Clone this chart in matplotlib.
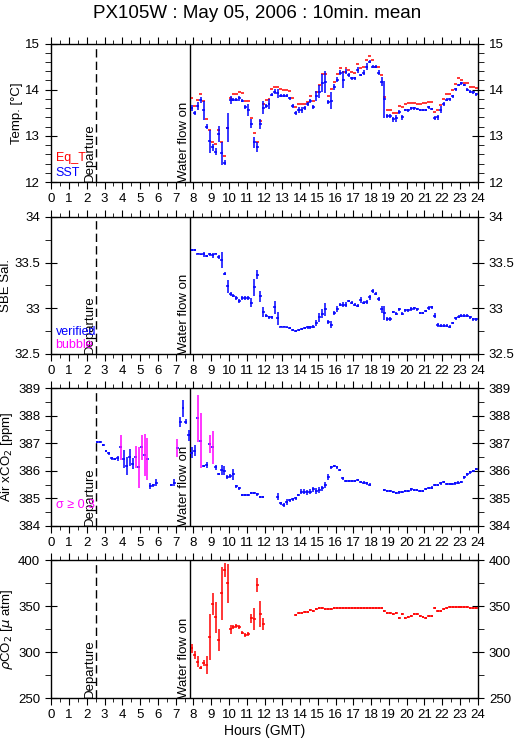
import numpy as np
import matplotlib
matplotlib.use('Agg')
import matplotlib.pyplot as plt
from matplotlib.ticker import MultipleLocator, FuncFormatter

plt.rcParams['font.family'] = ['Liberation Sans', 'DejaVu Sans']
nan = np.nan

# ---- 10 min means, first bin after "water flow on" ----
t_start = 7.92
t_air_start = 2.58
t_depart = 2.5
t_water = 7.83

sst = [13.60,13.50,13.65,13.78,13.55,13.20,12.88,12.75,12.66,13.04,
       12.62,12.42,13.18,13.78,13.78,13.78,13.81,13.76,13.63,13.56,
       13.26,12.86,12.75,13.26,13.61,13.65,13.69,13.89,13.96,13.92,
       13.87,13.87,13.87,13.81,13.65,13.50,13.56,13.56,13.60,13.69,
       13.76,13.62,13.86,13.96,14.14,14.17,13.74,13.76,14.06,14.22,
       14.37,14.22,14.39,14.32,14.25,14.25,14.43,14.32,14.37,14.50,
       14.61,14.50,14.50,14.37,14.17,13.79,13.43,13.43,13.36,13.38,
       13.52,13.40,13.56,13.55,13.60,13.60,13.58,13.56,13.56,13.56,
       13.62,13.58,13.38,13.40,13.57,13.69,13.78,13.79,13.86,14.01,
       14.10,14.14,14.10,14.00,13.96,13.94,13.90]
sst_sd = [0.07,0.04,0.08,0.07,0.2,0.06,0.25,0.08,0.08,0.18,
          0.25,0.05,0.31,0.08,0.03,0.03,0.06,0.03,0.04,0.14,
          0.1,0.12,0.11,0.11,0.14,0.05,0.1,0.03,0.06,0.1,
          0.03,0.03,0.03,0.03,0.05,0.04,0.06,0.07,0.05,0.05,
          0.04,0.04,0.11,0.15,0.2,0.24,0.04,0.18,0.07,0.06,
          0.05,0.18,0.06,0.04,0.03,0.03,0.07,0.03,0.05,0.07,
          0.04,0.04,0.03,0.06,0.1,0.4,0.04,0.04,0.05,0.07,
          0.05,0.05,0.03,0.03,0.03,0.03,0.03,0.03,0.03,0.03,
          0.03,0.03,0.04,0.06,0.07,0.05,0.03,0.03,0.03,0.03,
          0.03,0.03,0.03,0.03,0.03,0.03,0.03]
eqt = [13.81,13.65,13.78,13.90,13.75,13.36,13.13,12.86,12.82,13.13,
       12.86,12.57,13.18,13.81,13.90,13.90,13.94,13.92,13.75,13.75,
       13.38,13.06,12.86,13.33,13.69,13.78,13.79,14.01,14.06,14.05,
       14.01,14.00,14.00,13.98,13.81,13.62,13.69,13.69,13.69,13.74,
       13.87,13.76,13.96,14.10,14.33,14.33,13.86,14.01,14.17,14.33,
       14.48,14.38,14.48,14.43,14.38,14.37,14.55,14.48,14.50,14.64,
       14.73,14.64,14.50,14.50,14.32,13.85,13.55,13.56,13.49,13.49,
       13.65,13.62,13.69,13.72,13.72,13.71,13.69,13.69,13.71,13.72,
       13.74,13.74,13.52,13.55,13.67,13.79,13.90,13.90,14.00,14.12,
       14.25,14.22,14.14,14.14,14.06,14.05,14.03]

sal = [33.64,33.64,33.60,33.59,33.59,33.57,33.59,33.58,33.60,33.56,
       33.53,33.38,33.24,33.16,33.14,33.11,33.08,33.11,33.11,33.11,
       33.06,33.23,33.37,33.13,32.96,32.92,32.90,32.90,33.01,32.89,
       32.80,32.80,32.79,32.78,32.76,32.75,32.76,32.77,32.78,32.79,
       32.79,32.80,32.84,32.90,32.94,32.99,32.85,32.82,32.95,32.99,
       33.04,33.04,33.04,33.08,33.06,33.04,33.03,33.09,33.06,33.07,
       33.12,33.19,33.16,33.10,32.99,32.95,32.88,32.88,32.96,32.94,
       32.99,32.94,32.98,32.98,32.99,33.00,32.99,32.95,32.95,32.97,
       33.00,33.01,32.92,32.82,32.81,32.81,32.81,32.80,32.84,32.89,
       32.91,32.92,32.92,32.92,32.90,32.88,32.88]
sal_sd = [0.01,0.01,0.01,0.01,0.03,0.01,0.02,0.03,0.01,0.02,
          0.09,0.02,0.07,0.02,0.02,0.02,0.02,0.02,0.02,0.02,
          0.05,0.09,0.05,0.06,0.05,0.02,0.02,0.02,0.07,0.07,
          0.01,0.01,0.01,0.01,0.01,0.01,0.01,0.01,0.01,0.02,
          0.02,0.02,0.03,0.05,0.05,0.07,0.02,0.04,0.02,0.03,
          0.02,0.03,0.03,0.015,0.015,0.015,0.015,0.03,0.015,0.02,
          0.03,0.02,0.015,0.02,0.04,0.08,0.02,0.02,0.015,0.015,
          0.015,0.015,0.015,0.015,0.02,0.015,0.015,0.015,0.015,0.015,
          0.02,0.015,0.03,0.02,0.015,0.015,0.015,0.015,0.015,0.015,
          0.015,0.015,0.015,0.015,0.015,0.015,0.015]

# air xCO2 starts before water flow (from departure)
air = [387.06,387.06,386.94,386.72,386.63,386.45,386.43,386.45,386.85,386.43,
       386.17,386.49,386.25,386.49,386.12,386.85,386.57,386.43,385.44,385.47,
       385.57,nan,nan,nan,nan,385.48,385.57,386.82,387.79,388.27,
       387.79,387.30,
       386.66,386.72,387.91,387.09,386.17,386.21,386.97,386.85,386.12,385.88,
       386.03,386.00,385.78,385.82,385.87,385.44,385.36,385.12,385.12,385.12,
       385.18,385.18,385.14,385.06,385.06,nan,nan,nan,nan,385.06,
       384.81,384.75,384.87,384.93,384.96,385.00,385.12,385.24,385.24,385.21,
       385.24,385.32,385.27,385.30,385.36,385.48,385.78,386.12,386.17,386.12,
       386.03,385.72,385.63,385.63,385.63,385.63,385.66,385.58,385.57,385.54,
       385.50,nan,nan,nan,nan,385.30,385.27,385.26,385.24,385.20,
       385.21,385.24,385.26,385.26,385.32,385.30,385.30,385.27,385.26,385.33,
       385.36,385.39,385.48,385.48,385.54,385.58,385.51,385.51,385.51,385.54,
       385.57,385.60,385.76,385.87,385.94,385.99,386.06]
air_sd = [0.04,0.04,0.05,0.04,0.04,0.05,0.05,0.1,0.44,0.33,
          0.33,0.3,0.2,0.4,0.76,0.45,0.76,0.77,0.1,0.05,
          0.12,0.05,0.05,0.05,0.05,0.05,0.12,0.32,0.18,0.3,
          0.1,0.2,
          0.2,0.2,0.85,1.0,0.05,0.12,0.32,0.6,0.1,0.05,
          0.18,0.17,0.07,0.08,0.2,0.05,0.05,0.04,0.04,0.04,
          0.04,0.04,0.05,0.04,0.04,0.04,0.04,0.04,0.04,0.13,
          0.05,0.08,0.1,0.05,0.05,0.05,0.05,0.1,0.1,0.1,
          0.1,0.1,0.1,0.1,0.1,0.1,0.1,0.06,0.05,0.05,
          0.05,0.05,0.04,0.04,0.04,0.04,0.04,0.04,0.04,0.04,
          0.04,0.04,0.04,0.04,0.04,0.04,0.04,0.04,0.04,0.04,
          0.04,0.04,0.04,0.04,0.04,0.04,0.04,0.04,0.04,0.04,
          0.04,0.04,0.04,0.04,0.04,0.04,0.04,0.04,0.04,0.04,
          0.04,0.04,0.05,0.05,0.04,0.04,0.04]
air_sigma_flag = [8, 13, 14, 15, 16, 17, 27, 34, 35, 38, 39]

pco2 = [304.2,297.0,289.8,283.3,288.0,286.2,316.2,352.3,337.8,313.3,
        363.9,389.2,374.7,324.8,327.0,328.4,327.0,321.2,318.7,319.4,
        336.8,335.7,372.9,341.5,330.6,nan,nan,nan,nan,nan,
        nan,nan,nan,nan,nan,340.4,342.9,342.9,344.0,344.0,
        345.8,344.7,346.5,347.6,347.6,346.5,346.5,346.5,347.6,347.6,
        347.6,347.6,347.6,347.6,347.6,347.6,347.6,347.6,347.6,347.6,
        348.3,348.3,347.6,347.6,347.6,345.1,342.2,342.2,341.5,342.9,
        336.8,341.5,336.8,337.9,339.3,341.5,341.5,339.3,337.9,336.8,
        339.3,339.3,347.6,344.7,345.1,346.9,348.3,348.7,349.4,349.4,
        349.4,349.4,348.7,348.7,348.3,347.6,347.6]
pco2_sd = [5,4,6,2,3,10,25,12,17,12,
           29,8,21,5,2,2,2,2,2,2,
           5,12,8,14,7] + [1.0] * 72

t = t_start + np.arange(len(sst)) / 6.0
t_air = t_air_start + np.arange(len(air)) / 6.0
half = 1 / 12.0


def crosses(ax, x, y, sd, color, vcolor=None, lw=1.1):
    x = np.asarray(x); y = np.asarray(y, float)
    ax.hlines(y, x - half, x + half, colors=color, lw=lw)
    if sd is not None:
        sd = np.asarray(sd, float)
        ax.vlines(x, y - sd, y + sd, colors=vcolor if vcolor is not None else color, lw=lw)


fig = plt.figure(figsize=(5.15, 7.39), dpi=100)
fig.suptitle('PX105W : May 05, 2006 : 10min. mean', y=0.993, fontsize=13.5)

L, W = 0.0996, 0.828
boxes = [(0.7537, 0.1874), (0.521, 0.1854), (0.2886, 0.1859), (0.0551, 0.1871)]
ylims = [(12, 15), (32.5, 34), (384, 389), (250, 400)]
ymaj = [1, 0.5, 1, 50]
ymin = [0.2, 0.25, 0.5, 25]
ylabels = ['Temp. [°C]', 'SBE Sal.', 'Air xCO$_2$ [ppm]', r'$\rho$CO$_2$ [$\mu$ atm]']
fmt = FuncFormatter(lambda v, p: '%g' % v)
axes = []
for i in range(4):
    ax = fig.add_axes([L, boxes[i][0], W, boxes[i][1]])
    ax.set_xlim(0, 24)
    ax.set_ylim(*ylims[i])
    ax.xaxis.set_major_locator(MultipleLocator(1))
    ax.xaxis.set_minor_locator(MultipleLocator(0.5))
    ax.yaxis.set_major_locator(MultipleLocator(ymaj[i]))
    ax.yaxis.set_minor_locator(MultipleLocator(ymin[i]))
    ax.yaxis.set_major_formatter(fmt)
    ax.tick_params(axis='x', which='both', top=True, bottom=True, direction='out', labelsize=9.5, pad=3)
    ax.tick_params(axis='x', which='major', length=5)
    ax.tick_params(axis='x', which='minor', length=3)
    ax.tick_params(axis='y', which='both', left=True, right=True, labelright=True, labelsize=9.5)
    ax.tick_params(axis='y', which='major', direction='inout', length=9)
    ax.tick_params(axis='y', which='minor', direction='out', length=4)
    for s in ax.spines.values():
        s.set_linewidth(1.0)
    ax.set_ylabel(ylabels[i], fontsize=9.5, labelpad=2)
    ax.axvline(t_depart, color='k', lw=1.0, ls=(0, (6, 3)))
    ax.axvline(t_water, color='k', lw=1.0)
    ax.text(t_depart, ylims[i][0], 'Departure', rotation=90, ha='right', va='bottom', fontsize=9.5)
    ax.text(t_water, ylims[i][0], 'Water flow on', rotation=90, ha='right', va='bottom', fontsize=9.5)
    axes.append(ax)

ax1, ax2, ax3, ax4 = axes

# temperature
crosses(ax1, t, eqt, None, 'red')
crosses(ax1, t, sst, sst_sd, 'blue')
ax1.text(0.01, 0.17, 'Eq_T', color='red', transform=ax1.transAxes, va='center', fontsize=9)
ax1.text(0.01, 0.065, 'SST', color='blue', transform=ax1.transAxes, va='center', fontsize=9)

# salinity
crosses(ax2, t, sal, sal_sd, 'blue')
ax2.text(0.01, 0.16, 'verified', color='blue', transform=ax2.transAxes, va='center', fontsize=9)
ax2.text(0.01, 0.066, 'bubble', color='magenta', transform=ax2.transAxes, va='center', fontsize=9)

# air xCO2
vcol = ['blue'] * len(air)
for k in air_sigma_flag:
    vcol[k] = 'magenta'
crosses(ax3, t_air, air, air_sd, 'blue', vcolor=vcol)
ax3.text(0.01, 0.15, 'σ ≥ 0.3', color='magenta', transform=ax3.transAxes, va='center', fontsize=9)

# pCO2
crosses(ax4, t, pco2, pco2_sd, 'red')
ax4.set_xlabel('Hours (GMT)', fontsize=10, labelpad=2)

fig.savefig('out.png', dpi=100)
